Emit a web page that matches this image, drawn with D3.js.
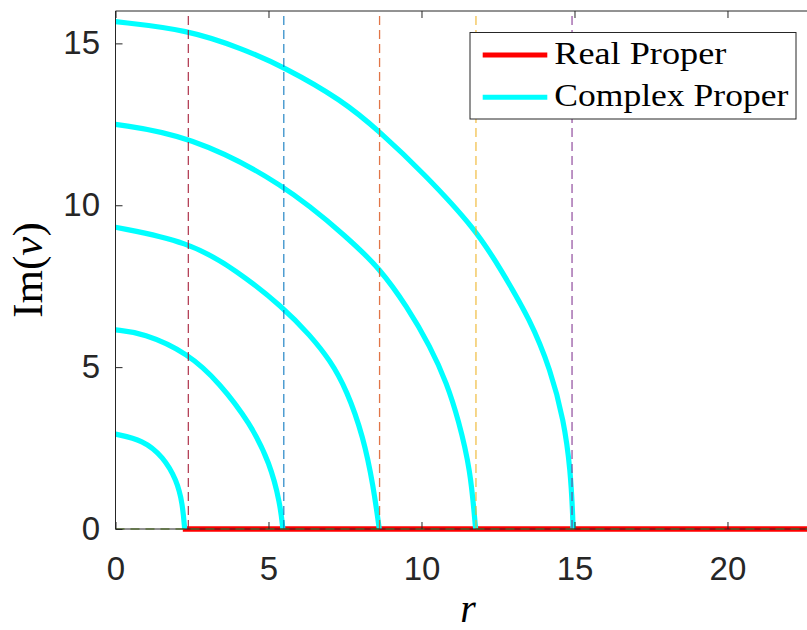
<!DOCTYPE html>
<html>
<head>
<meta charset="utf-8">
<script src="https://cdn.jsdelivr.net/npm/d3@7/dist/d3.min.js"></script>
<style>
  html, body { margin: 0; padding: 0; background: #ffffff; }
  svg { display: block; }
</style>
</head>
<body>
<svg id="chart" width="807" height="630"></svg>
<script>
// Complex proper branches: [r, Im(v)] samples along each arc
const branch1 = [[0, 2.93], [0.9, 2.75], [1.56, 2.23], [2.0, 1.51], [2.19, 0.79], [2.26, 0]];
const branch2 = [[0, 6.15], [0.9, 6.06], [2.38, 5.43], [3.41, 4.5], [4.4, 3.27], [5.05, 2.03], [5.38, 0.79], [5.47, 0]];
const branch3 = [[0, 9.32], [2.38, 8.88], [3.95, 8.0], [5.49, 6.84], [6.36, 5.98], [7.01, 5.22], [7.56, 4.29], [8.1, 2.85], [8.43, 1.31], [8.62, 0]];
const branch4 = [[0, 12.5], [2.38, 12.17], [5.49, 10.68], [7.67, 8.93], [8.63, 8.05], [9.53, 6.87], [10.29, 5.63], [10.83, 4.5], [11.21, 3.37], [11.6, 1.82], [11.75, 0.18], [11.77, 0]];
const branch5 = [[0, 15.67], [2.38, 15.42], [4.18, 14.82], [5.49, 14.28], [7.4, 13.25], [8.64, 12.27], [10.07, 10.99], [11.79, 9.24], [12.6, 8.0], [13.56, 6.46], [14.22, 4.91], [14.65, 3.37], [14.87, 1.82], [14.95, 0.28], [14.95, 0]];
const complexBranches = [branch1, branch2, branch3, branch4, branch5];

// Real proper branch lies on Im(v) = 0
const realBranch = [[2.2, 0], [23.04, 0]];

// Cut-off radii marked with dashed verticals
const cutoffR = [2.38, 5.50, 8.63, 11.78, 14.92];
const cutoffColors = ["#A2142F", "#0072BD", "#D95319", "#EDB120", "#7E2F8E"];

// Axis ranges and ticks
const xDomain = [0, 23.04];
const yDomain = [0, 16];
const xTicks = [0, 5, 10, 15, 20];
const yTicks = [0, 5, 10, 15];

const legendLabels = ["Real Proper", "Complex Proper"];
const legendColors = ["#FF0000", "#00FFFF"];

(function draw() {
  const svg = d3.select("#chart");
  const mLeft = 115.5, mRight = 820.5, mTop = 11, mBottom = 529;
  const x = d3.scaleLinear().domain(xDomain).range([mLeft, mRight]);
  const y = d3.scaleLinear().domain(yDomain).range([mBottom, mTop]);
  const axisColor = "#262626";

  svg.append("rect").attr("width", 807).attr("height", 630).attr("fill", "#ffffff");

  svg.append("defs").append("clipPath").attr("id", "plotClip")
    .append("rect").attr("x", mLeft).attr("y", mTop - 3).attr("width", mRight - mLeft).attr("height", mBottom - mTop + 6);

  const plot = svg.append("g").attr("clip-path", "url(#plotClip)");

  const line = d3.line().x(d => x(d[0])).y(d => y(d[1]));
  const smooth = d3.line().x(d => x(d[0])).y(d => y(d[1])).curve(d3.curveBasis);

  // real branch
  plot.append("path").datum(realBranch).attr("d", line)
    .attr("fill", "none").attr("stroke", legendColors[0]).attr("stroke-width", 5.5);

  // complex branches
  complexBranches.forEach(b => {
    plot.append("path").datum(b).attr("d", smooth)
      .attr("fill", "none").attr("stroke", legendColors[1]).attr("stroke-width", 5.2)
      .attr("stroke-linejoin", "round");
  });

  // cut-off markers
  cutoffR.forEach((r, i) => {
    plot.append("path").datum([[r, yDomain[0]], [r, yDomain[1]]]).attr("d", line)
      .attr("fill", "none").attr("stroke", cutoffColors[i]).attr("stroke-width", 1.3)
      .attr("stroke-opacity", 0.8).attr("stroke-dasharray", "9,5");
  });

  // zero reference
  plot.append("path").datum([[xDomain[0], 0], [xDomain[1], 0]]).attr("d", line)
    .attr("fill", "none").attr("stroke", "#77AC30").attr("stroke-width", 1.5)
    .attr("stroke-opacity", 0.85).attr("stroke-dasharray", "9,6");

  // axes box
  const box = svg.append("g").attr("stroke", axisColor).attr("stroke-width", 1).attr("fill", "none");
  box.append("line").attr("x1", mLeft).attr("x2", mLeft).attr("y1", mTop).attr("y2", mBottom);
  box.append("line").attr("x1", mLeft).attr("x2", mRight).attr("y1", mBottom).attr("y2", mBottom);
  box.append("line").attr("x1", mLeft).attr("x2", mRight).attr("y1", mTop).attr("y2", mTop);
  box.append("line").attr("x1", mRight).attr("x2", mRight).attr("y1", mTop).attr("y2", mBottom);

  function styleAxis(g) {
    g.select(".domain").remove();
    g.selectAll(".tick line").attr("stroke", axisColor).attr("stroke-width", 1);
    g.selectAll(".tick text").attr("fill", axisColor)
      .attr("font-family", "'Liberation Sans', Arial, sans-serif").attr("font-size", 33);
  }

  svg.append("g").attr("transform", `translate(0,${mBottom})`)
    .call(d3.axisBottom(x).tickValues(xTicks).tickSize(-7).tickPadding(27.6).tickFormat(d3.format("d")))
    .call(styleAxis);
  svg.append("g").attr("transform", `translate(0,${mTop})`)
    .call(d3.axisTop(x).tickValues(xTicks).tickSize(-7).tickFormat(""))
    .call(styleAxis);
  svg.append("g").attr("transform", `translate(${mLeft},0)`)
    .call(d3.axisLeft(y).tickValues(yTicks).tickSize(-7).tickPadding(15.5).tickFormat(d3.format("d")))
    .call(styleAxis);

  // axis labels
  svg.append("text").attr("x", (mLeft + mRight) / 2).attr("y", 622)
    .attr("text-anchor", "middle").attr("font-family", "'Liberation Serif', serif")
    .attr("font-style", "italic").attr("font-size", 40).attr("fill", "#000").text("r");

  const yl = svg.append("text").attr("transform", `translate(41.5,${(mTop + mBottom) / 2}) rotate(-90)`)
    .attr("text-anchor", "middle").attr("font-family", "'Liberation Serif', serif")
    .attr("font-size", 43).attr("fill", "#000");
  yl.append("tspan").text("Im(");
  yl.append("tspan").attr("font-style", "italic").text("v");
  yl.append("tspan").text(")");

  // legend
  const lg = svg.append("g");
  lg.append("rect").attr("x", 470).attr("y", 32.5).attr("width", 326).attr("height", 86.5)
    .attr("fill", "#ffffff").attr("stroke", axisColor).attr("stroke-width", 1);
  const rowY = [55, 97.3];
  const textLen = [172, 234];
  legendLabels.forEach((lab, i) => {
    lg.append("line").attr("x1", 482.7).attr("x2", 547.3).attr("y1", rowY[i]).attr("y2", rowY[i])
      .attr("stroke", legendColors[i]).attr("stroke-width", 5);
    lg.append("text").attr("x", 554.3).attr("y", rowY[i] + 8.5)
      .attr("font-family", "'Liberation Serif', serif").attr("font-size", 31).attr("fill", "#000")
      .attr("textLength", textLen[i]).attr("lengthAdjust", "spacingAndGlyphs").text(lab);
  });
})();
</script>
</body>
</html>
